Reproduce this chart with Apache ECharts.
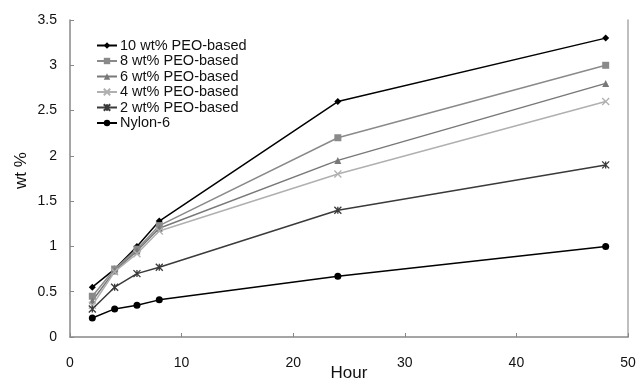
<!DOCTYPE html>
<html><head><meta charset="utf-8">
<script src="https://cdn.jsdelivr.net/npm/echarts@6/dist/echarts.min.js"></script>
<style>html,body{margin:0;padding:0;background:#fff}#c{width:636px;height:385px}</style>
</head><body><div id="c"></div>
<script>
const hours = [2, 4, 6, 8, 24, 48];
const peo10 = [0.55, 0.75, 1.0, 1.28, 2.6, 3.3];
const peo8 = [0.45, 0.75, 0.97, 1.23, 2.2, 3.0];
const peo6 = [0.40, 0.73, 0.95, 1.20, 1.95, 2.8];
const peo4 = [0.35, 0.72, 0.92, 1.17, 1.8, 2.6];
const peo2 = [0.31, 0.55, 0.70, 0.77, 1.4, 1.9];
const nylon = [0.21, 0.31, 0.35, 0.41, 0.67, 1.0];
const names = ['10 wt% PEO-based','8 wt% PEO-based','6 wt% PEO-based','4 wt% PEO-based','2 wt% PEO-based','Nylon-6'];
const xTicks = [0,10,20,30,40,50];
const yTicks = [0,0.5,1,1.5,2,2.5,3,3.5];

const pair = arr => hours.map((h,i)=>[h,arr[i]]);
const styles = [
  {c:'#000', sym:'diamond', size:7},
  {c:'#8a8a8a', sym:'rect', size:7},
  {c:'#787878', sym:'triangle', size:7},
  {c:'#b0b0b0', sym:'path://M0,0L10,10M10,0L0,10', size:7, stroke:true},
  {c:'#3a3a3a', sym:'path://M0,0L10,10M10,0L0,10M5,0L5,10', size:7, stroke:true},
  {c:'#000', sym:'circle', size:7}
];
const datas = [peo10, peo8, peo6, peo4, peo2, nylon];
const series = datas.map((d,i)=>({
  name: names[i], type:'line', data: pair(d),
  symbol: styles[i].sym, symbolSize: styles[i].size, showSymbol:true,
  lineStyle:{color:styles[i].c, width:1.5},
  itemStyle: styles[i].stroke ? {color:'rgba(0,0,0,0)', borderColor:styles[i].c, borderWidth:1.3} : {color:styles[i].c, borderWidth:0},
  emphasis:{disabled:true}, animation:false
}));
series.push({type:'line', yAxisIndex:1, data:[], silent:true});

const chart = echarts.init(document.getElementById('c'), null, {renderer:'canvas'});
chart.setOption({
  animation:false,
  textStyle:{fontFamily:'Liberation Sans, Arial, sans-serif'},
  grid:{left:70, right:8, top:20, bottom:48, containLabel:false, outerBoundsMode:'none'},
  legend:{
    left:91, top:33, orient:'vertical', itemGap:0.5, itemWidth:20, itemHeight:8,
    data: names,
    textStyle:{fontSize:14.5, color:'#111', fontFamily:'Liberation Sans, Arial, sans-serif', padding:[0,0,0,-2]},
    selectedMode:false
  },
  xAxis:{
    type:'value', min:0, max:50, interval:10,
    name:'Hour', nameLocation:'middle', nameGap:28, nameMoveOverlap:false,
    nameTextStyle:{fontSize:17, color:'#111'},
    axisLine:{lineStyle:{color:'#888', width:1.5}},
    axisTick:{inside:true, length:4, lineStyle:{color:'#888'}},
    axisLabel:{fontSize:14, color:'#111', margin:19},
    splitLine:{show:false}
  },
  yAxis:[{
    type:'value', min:0, max:3.5, interval:0.5,
    name:'wt %', nameLocation:'middle', nameGap:40, nameRotate:90, nameMoveOverlap:false,
    nameTextStyle:{fontSize:17, color:'#111', padding:[0,0,0,16]},
    axisLine:{show:true, lineStyle:{color:'#888', width:1.5}},
    axisTick:{show:true, inside:true, length:4, lineStyle:{color:'#888'}},
    axisLabel:{fontSize:14, color:'#111', margin:13},
    splitLine:{show:false}
  },{
    type:'value', min:0, max:3.5, interval:0.5, position:'right',
    axisLine:{show:true, lineStyle:{color:'#aaa', width:1.5}},
    axisTick:{show:false}, axisLabel:{show:false}, splitLine:{show:false}
  }],
  series: series
});
</script></body></html>
